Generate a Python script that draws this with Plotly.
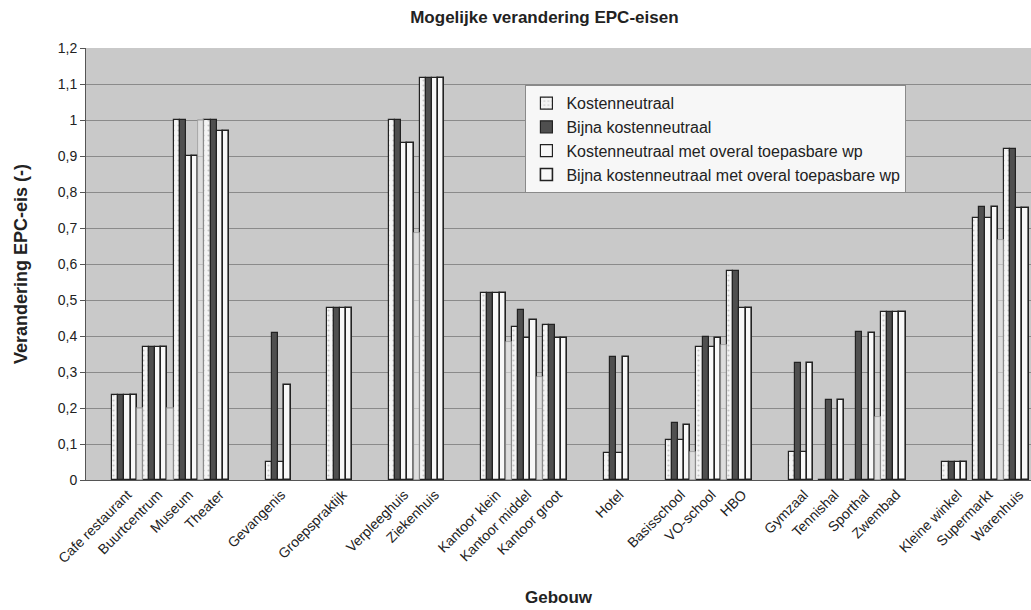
import plotly.graph_objects as go

# ---- data ----
categories = ["Cafe restaurant", "Buurtcentrum", "Museum", "Theater", "",
              "Gevangenis", "", "Groepspraktijk", "", "Verpleeghuis", "Ziekenhuis", "",
              "Kantoor klein", "Kantoor middel", "Kantoor groot", "", "Hotel", "",
              "Basisschool", "VO-school", "HBO", "", "Gymzaal", "Tennishal", "Sporthal",
              "Zwembad", "", "Kleine winkel", "Supermarkt", "Warenhuis"]

kostenneutraal = [0.235, 0.37, 1.0, 1.0, None, 0.05, None, 0.478, None, 1.0, 1.117, None,
                  0.52, 0.426, 0.431, None, 0.075, None, 0.111, 0.37, 0.58, None,
                  0.077, -0.01, 0.0, 0.467, None, 0.05, 0.727, 0.92]
bijna_kostenneutraal = [0.235, 0.37, 1.0, 1.0, None, 0.408, None, 0.478, None, 1.0, 1.117, None,
                        0.52, 0.472, 0.431, None, 0.342, None, 0.158, 0.398, 0.58, None,
                        0.324, 0.222, 0.41, 0.467, None, 0.05, 0.758, 0.92]
kosten_wp = [0.235, 0.37, 0.9, 0.97, None, 0.05, None, 0.478, None, 0.936, 1.117, None,
             0.52, 0.394, 0.394, None, 0.075, None, 0.111, 0.37, 0.478, None,
             0.077, 0.0, 0.0, 0.467, None, 0.05, 0.727, 0.755]
bijna_wp = [0.235, 0.37, 0.9, 0.97, None, 0.264, None, 0.478, None, 0.936, 1.117, None,
            0.52, 0.444, 0.394, None, 0.342, None, 0.153, 0.394, 0.478, None,
            0.324, 0.222, 0.408, 0.467, None, 0.05, 0.758, 0.755]
# faint extra column visible after some clusters (no legend entry in the original)
extra_column = [0.2, 0.2, 1.0, None, None, None, None, None, None, 0.686, None, None,
                0.383, 0.287, None, None, None, None, 0.079, 0.375, None, None,
                None, None, 0.175, None, None, None, 0.667, None]

series_names = ["Kostenneutraal", "Bijna kostenneutraal",
                "Kostenneutraal met overal toepasbare wp",
                "Bijna kostenneutraal met overal toepasbare wp"]

y_tick_vals = [0, 0.1, 0.2, 0.3, 0.4, 0.5, 0.6, 0.7, 0.8, 0.9, 1.0, 1.1, 1.2]
y_tick_text = ["0", "0,1", "0,2", "0,3", "0,4", "0,5", "0,6", "0,7", "0,8", "0,9", "1", "1,1", "1,2"]

# ---- figure ----
x = list(range(len(categories)))
tick_vals = [i for i, c in enumerate(categories) if c]
tick_text = [c for c in categories if c]

FONT = "Liberation Sans, Arial, sans-serif"

fig = go.Figure()
styles = [
    dict(color="#f4f4f4", line=dict(color="#222222", width=1.2),
         pattern=dict(shape=".", fgcolor="#9a9a9a", size=5, solidity=0.15)),
    dict(color="#4f4f4f", line=dict(color="#222222", width=1.2)),
    dict(color="#f8f8f8", line=dict(color="#222222", width=1.2)),
    dict(color="#f8f8f8", line=dict(color="#222222", width=1.6)),
]
for name, vals, st in zip(series_names,
                          [kostenneutraal, bijna_kostenneutraal, kosten_wp, bijna_wp],
                          styles):
    fig.add_trace(go.Bar(x=x, y=vals, name=name, marker=st, cliponaxis=False))

fig.add_trace(go.Bar(x=x, y=extra_column, name="", showlegend=False,
                     marker=dict(color="rgba(236,236,236,0.55)",
                                 line=dict(color="#9a9a9a", width=0.8))))

fig.update_layout(
    width=1031, height=610,
    margin=dict(l=86, r=0, t=48, b=130),
    paper_bgcolor="white",
    plot_bgcolor="#c9c9c9",
    barmode="group", bargap=0, bargroupgap=0,
    font=dict(family=FONT, color="#222222", size=14),
    title=dict(text="<b>Mogelijke verandering EPC-eisen</b>", x=0.528, xanchor="center",
               y=0.972, yanchor="middle", font=dict(size=17, family=FONT, color="#222")),
    showlegend=True,
    legend=dict(x=0.465, y=0.914, xanchor="left", yanchor="top",
                bgcolor="#f7f7f7", bordercolor="#8a8a8a", borderwidth=1,
                font=dict(size=16, family=FONT, color="#222"),
                tracegroupgap=0, itemwidth=30),
)

fig.update_xaxes(
    automargin=False,
    range=[-1.35, 29.38],
    tickmode="array", tickvals=tick_vals, ticktext=tick_text, tickangle=-45,
    tickfont=dict(size=14, family=FONT, color="#222"),
    showgrid=False, zeroline=False,
    showline=True, linecolor="#555", linewidth=1,
    ticks="",
    title=dict(text="<b>Gebouw</b>", font=dict(size=17, family=FONT, color="#222"), standoff=25),
)
fig.update_yaxes(
    automargin=False,
    range=[0, 1.2],
    tickmode="array", tickvals=y_tick_vals, ticktext=y_tick_text,
    tickfont=dict(size=14, family=FONT, color="#222"),
    showgrid=True, gridcolor="#8a8a8a", gridwidth=1,
    zeroline=False,
    showline=True, linecolor="#555", linewidth=1,
    ticks="outside", ticklen=5, tickcolor="#555",
    title=dict(text="<b>Verandering EPC-eis (-)</b>", font=dict(size=18, family=FONT, color="#222"), standoff=25),
)

fig.write_html("out.html", config={"displayModeBar": False},
               post_script="document.body.style.margin='0';")
